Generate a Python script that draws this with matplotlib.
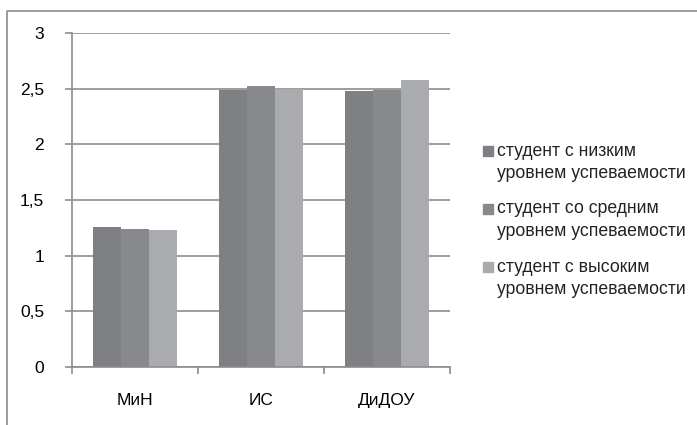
import numpy as np
import matplotlib
matplotlib.use('Agg')
import matplotlib.pyplot as plt
from matplotlib.lines import Line2D
from matplotlib.patches import Rectangle

plt.rcParams['font.family'] = ['Liberation Sans', 'DejaVu Sans']

categories = ['МиН', 'ИС', 'ДиДОУ']
series_names = ['студент с низким\nуровнем успеваемости',
                'студент со средним\nуровнем успеваемости',
                'студент с высоким\nуровнем успеваемости']
low = [1.26, 2.49, 2.48]
mid = [1.24, 2.52, 2.49]
high = [1.23, 2.50, 2.58]
colors = ['#7f8084', '#88898d', '#aaabaf']
yticks = [0, 0.5, 1, 1.5, 2, 2.5, 3]
ytick_labels = ['0', '0,5', '1', '1,5', '2', '2,5', '3']

W, H = 697, 425
fig = plt.figure(figsize=(6.97, 4.25), dpi=100)
ax = fig.add_axes([72/W, 58/H, 378/W, 334/H])

x = np.arange(len(categories))
w = 2/3/3
for i, vals in enumerate([low, mid, high]):
    ax.bar(x + (i - 1) * w, vals, width=w, color=colors[i], zorder=2)

ax.set_xlim(-0.5, 2.5)
ax.set_ylim(0, 3)
ax.set_yticks(yticks)
ax.set_yticklabels(ytick_labels, fontsize=12.5)
ax.yaxis.grid(True, color='#8c8c8c', linewidth=1.2, zorder=0)
ax.set_axisbelow(True)

# category labels between boundary ticks
ax.set_xticks([-0.5, 0.5, 1.5, 2.5])
ax.set_xticklabels([])
ax.set_xticks(x, minor=True)
ax.set_xticklabels(categories, minor=True, fontsize=12.5)
ax.tick_params(axis='x', which='minor', length=0, pad=19)
ax.tick_params(axis='x', which='major', length=5, color='#8c8c8c', width=1.2)
ax.tick_params(axis='y', length=5, color='#8c8c8c', width=1.2, pad=15)

for s in ['top', 'right']:
    ax.spines[s].set_visible(False)
for s in ['left', 'bottom']:
    ax.spines[s].set_color('#8c8c8c')
    ax.spines[s].set_linewidth(1.2)

# legend drawn by hand: marker aligned with the first line of each label
for i, name in enumerate(series_names):
    yc = 151 + 58 * i
    fig.add_artist(Rectangle((483/W, 1 - (yc + 5)/H), 10/W, 10/H,
                             transform=fig.transFigure, color=colors[i]))
    for j, line in enumerate(name.split('\n')):
        fig.text(497/W, 1 - (yc + 23 * j)/H, line, fontsize=12.7,
                 va='center', ha='left', color='#222222')

# outer chart border (left and top only visible)
fig.add_artist(Line2D([7/W, 7/W, 1], [0, 1 - 11/H, 1 - 11/H],
                      transform=fig.transFigure, color='#8c8c8c', linewidth=1.2))

fig.savefig('out.png', dpi=100)
